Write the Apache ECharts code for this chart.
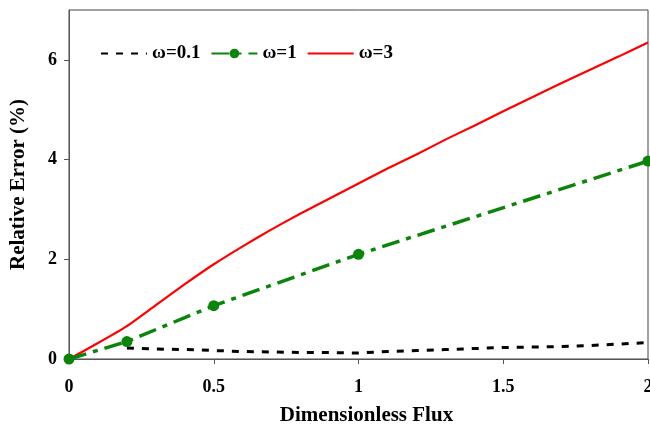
<!DOCTYPE html>
<html>
<head>
<meta charset="utf-8">
<script src="https://cdn.jsdelivr.net/npm/echarts@6/dist/echarts.min.js"></script>
<style>html,body{margin:0;padding:0;background:#fff}#c{width:650px;height:427px}</style>
</head>
<body>
<div id="c"></div>
<script>
const xBlack = [0.2,0.3,0.4,0.5,0.6,0.7,0.8,0.9,1.0,1.1,1.2,1.3,1.4,1.5,1.6,1.7,1.8,1.9,2.0];
const yBlack = [0.22,0.2,0.19,0.17,0.15,0.14,0.13,0.13,0.12,0.15,0.17,0.19,0.21,0.23,0.24,0.25,0.27,0.3,0.33];
const xGreen = [0,0.2,0.5,1.0,2.0];
const yGreen = [0,0.35,1.07,2.1,3.97];
const xRed = [0,0.1,0.2,0.3,0.4,0.5,0.6,0.7,0.8,0.9,1.0,1.1,1.2,1.3,1.4,1.5,1.6,1.7,1.8,1.9,2.0];
const yRed = [0,0.32,0.66,1.08,1.5,1.9,2.26,2.6,2.92,3.22,3.52,3.82,4.1,4.4,4.68,4.97,5.25,5.53,5.8,6.07,6.35];
const seriesNames = ['ω=0.1','ω=1','ω=3'];
const yTicks = [0,2,4,6];
const xTicks = [0,0.5,1,1.5,2];

const zip = (a,b) => a.map((v,i)=>[v,b[i]]);
const font = 'Liberation Serif';
const chart = echarts.init(document.getElementById('c'), null, {renderer:'canvas'});
chart.setOption({
  animation:false,
  backgroundColor:'#fff',
  grid:{left:69,right:2,top:10,bottom:68,show:true,borderColor:'#444',borderWidth:1,backgroundColor:'transparent',outerBoundsMode:'none',containLabel:false},
  legend:{
    top:39,left:95,itemWidth:46,itemHeight:12,itemGap:10,
    textStyle:{fontFamily:font,fontWeight:'bold',fontSize:19,color:'#000'},
    data:[
      {name:seriesNames[0],itemStyle:{opacity:0}},
      {name:seriesNames[1]},
      {name:seriesNames[2],itemStyle:{opacity:0}}
    ]
  },
  xAxis:{
    type:'value',min:0,max:2,interval:0.5,
    name:'Dimensionless Flux',nameLocation:'middle',nameGap:46,
    nameTextStyle:{fontFamily:font,fontWeight:'bold',fontSize:21,color:'#000',padding:[0,0,0,16]},
    axisLine:{lineStyle:{color:'#555',width:1}},
    axisTick:{show:true,length:5,lineStyle:{color:'#555'}},
    axisLabel:{fontFamily:font,fontWeight:'bold',fontSize:18,color:'#000',margin:19,
      formatter:v=>String(v)},
    splitLine:{show:false}
  },
  yAxis:{
    type:'value',min:0,max:7,interval:2,
    name:'Relative Error (%)',nameLocation:'middle',nameGap:40,nameRotate:90,
    nameTextStyle:{fontFamily:font,fontWeight:'bold',fontSize:21,color:'#000'},
    axisLine:{show:true,lineStyle:{color:'#555',width:1}},
    axisTick:{show:true,length:5,lineStyle:{color:'#555'},customValues:yTicks},
    axisLabel:{fontFamily:font,fontWeight:'bold',fontSize:18,color:'#000',margin:12,customValues:yTicks},
    splitLine:{show:false}
  },
  series:[
    {name:seriesNames[0],type:'line',data:zip(xBlack,yBlack),showSymbol:false,symbol:'none',
      lineStyle:{color:'#000',width:3,type:[7,8]},itemStyle:{color:'#000'},z:2},
    {name:seriesNames[1],type:'line',data:zip(xGreen,yGreen),symbol:'circle',symbolSize:11,
      lineStyle:{color:'#0a850a',width:3.5,type:[18,7,5,7]},itemStyle:{color:'#0a850a'},z:4},
    {name:seriesNames[2],type:'line',data:zip(xRed,yRed),symbol:'none',smooth:0.2,
      lineStyle:{color:'#ff0000',width:2.2},itemStyle:{color:'#ff0000'},z:3}
  ]
});
</script>
</body>
</html>
